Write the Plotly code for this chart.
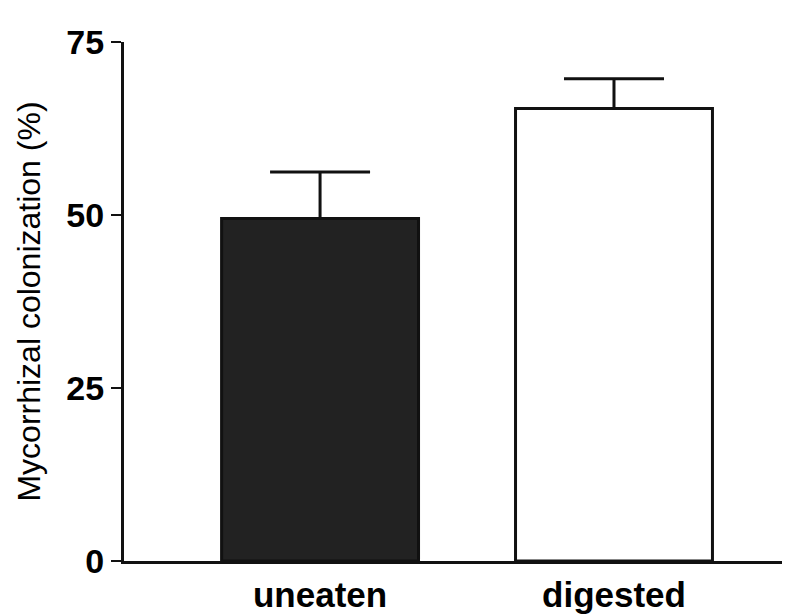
import plotly.graph_objects as go

categories = ["uneaten", "digested"]
means = [49.5, 65.4]
errors = [6.7, 4.3]
fill_colors = ["#222222", "#ffffff"]
y_ticks = [0, 25, 50, 75]

xpos = list(range(len(categories)))

fig = go.Figure()
fig.add_trace(go.Bar(
    x=xpos, y=means, width=0.67,
    marker=dict(color=fill_colors, line=dict(color="#111111", width=3)),
    error_y=dict(type="data", array=errors, arrayminus=[0]*len(errors), symmetric=False,
                 color="#111111", thickness=3, width=50),
))

fig.update_layout(
    width=790, height=614,
    margin=dict(l=116, r=0, t=34, b=61),
    plot_bgcolor="white", paper_bgcolor="white",
    showlegend=False,
    font=dict(family="Liberation Sans, Arial", color="black"),
    xaxis=dict(
        range=[-0.667, 1.626], tickvals=xpos,
        ticktext=[f"<b>{c}</b>" for c in categories],
        tickfont=dict(size=35, color="black"),
        showline=True, linecolor="#111111", linewidth=3,
        ticks="", showgrid=False, zeroline=False, ticklabelstandoff=1,
    ),
    yaxis=dict(
        range=[0, 75], tickvals=y_ticks,
        ticktext=[f"<b>{t}</b>" for t in y_ticks],
        tickfont=dict(size=34, color="black"),
        showline=True, linecolor="#111111", linewidth=3,
        ticks="outside", ticklen=10, tickwidth=2, tickcolor="#111111",
        showgrid=False, zeroline=False, ticklabelstandoff=0,
        title=dict(text="Mycorrhizal colonization (%)", font=dict(size=32, color="black"), standoff=17),
    ),
)

fig.write_html("out.html")
